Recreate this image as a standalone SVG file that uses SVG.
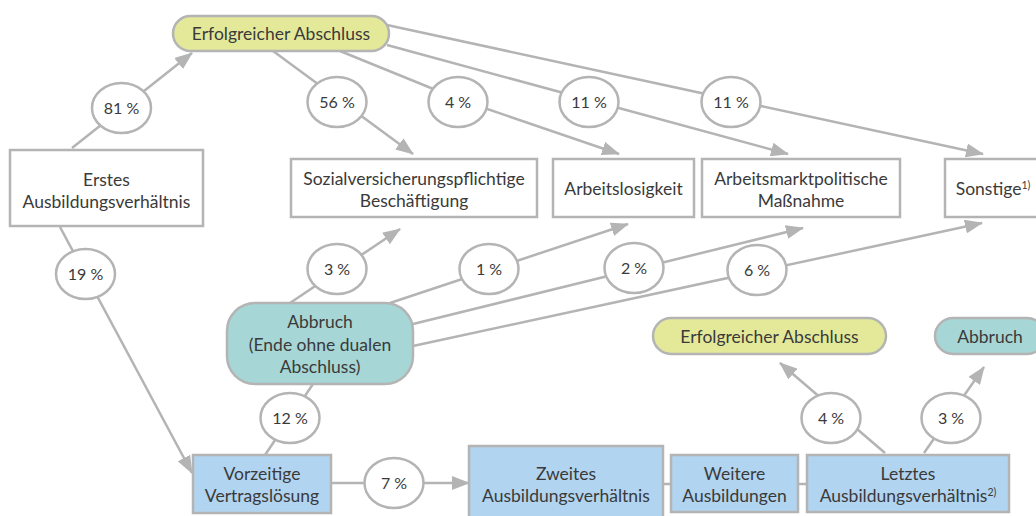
<svg xmlns="http://www.w3.org/2000/svg" width="1036" height="516" viewBox="0 0 1036 516">
<defs>
<marker id="ah" markerUnits="userSpaceOnUse" markerWidth="18" markerHeight="14" viewBox="0 0 18 14" refX="17" refY="7" orient="auto">
<path d="M0,0 L18,7 L0,14 z" fill="#b4b4b4"/>
</marker>
</defs>
<style>
text{font-family:Lato,"Noto Sans","DejaVu Sans",sans-serif;font-size:17.5px;fill:#3a3a3a;text-anchor:middle}
text.p{font-size:16px}
.box{fill:#fff;stroke:#b4b4b4;stroke-width:2.5}
.yel{fill:#e4e99a;stroke:#b4b4b4;stroke-width:2.5}
.teal{fill:#a6d6d6;stroke:#b4b4b4;stroke-width:2.5}
.blue{fill:#b1d4f0;stroke:#b4b4b4;stroke-width:2.5}
.pct{fill:#fff;stroke:#b4b4b4;stroke-width:2.5}
.ln{fill:none;stroke:#b4b4b4;stroke-width:2.5}
.arr{marker-end:url(#ah)}
.sup{font-size:10.5px}
</style>
<rect width="1036" height="516" fill="#fff"/>
<g id="connectors">
<line class="ln arr" x1="72" y1="148" x2="192" y2="53"/>
<line class="ln arr" x1="273" y1="51" x2="413" y2="154"/>
<polyline class="ln arr" points="340,51 458,99 619,154"/>
<line class="ln arr" x1="387" y1="45" x2="788" y2="154"/>
<line class="ln arr" x1="387" y1="25" x2="983" y2="154"/>
<line class="ln arr" x1="290" y1="303" x2="400" y2="229"/>
<line class="ln arr" x1="390" y1="303" x2="628" y2="224"/>
<line class="ln arr" x1="413" y1="324" x2="803" y2="228"/>
<line class="ln arr" x1="413" y1="346" x2="982" y2="223"/>
<line class="ln arr" x1="60" y1="227" x2="192" y2="473"/>
<line class="ln" x1="265" y1="455" x2="313" y2="384"/>
<line class="ln arr" x1="331" y1="483" x2="469" y2="483"/>
<line class="ln" x1="663" y1="484" x2="671" y2="484"/>
<line class="ln" x1="798" y1="484" x2="807" y2="484"/>
<line class="ln arr" x1="885" y1="453" x2="780" y2="363"/>
<line class="ln arr" x1="924" y1="453" x2="984" y2="367"/>
</g>
<g id="n-erfolg1"><rect class="yel" x="173" y="16" width="216" height="35" rx="17.5"/><text x="281" y="39.5">Erfolgreicher Abschluss</text></g>
<g id="n-erstes"><rect class="box" x="10" y="150" width="193" height="76"/><text x="106.5" y="186">Erstes</text><text x="106.5" y="208">Ausbildungsverhältnis</text></g>
<g id="n-sozial"><rect class="box" x="291" y="159" width="246" height="58"/><text x="414" y="185">Sozialversicherungspflichtige</text><text x="414" y="207">Beschäftigung</text></g>
<g id="n-arbeitslos"><rect class="box" x="553" y="159" width="141" height="58"/><text x="623.5" y="195">Arbeitslosigkeit</text></g>
<g id="n-massnahme"><rect class="box" x="702" y="159" width="198" height="58"/><text x="801" y="185">Arbeitsmarktpolitische</text><text x="801" y="207">Maßnahme</text></g>
<g id="n-sonstige"><rect class="box" x="945" y="159" width="96" height="58"/><text x="993" y="195">Sonstige<tspan class="sup" dy="-6">1)</tspan></text></g>
<g id="n-abbruch1"><rect class="teal" x="227" y="303" width="186" height="81" rx="28"/><text x="320" y="328">Abbruch</text><text x="320" y="351">(Ende ohne dualen</text><text x="320" y="373">Abschluss)</text></g>
<g id="n-vorzeitig"><rect class="blue" x="193" y="455" width="138" height="58"/><text x="262" y="480">Vorzeitige</text><text x="262" y="502">Vertragslösung</text></g>
<g id="n-zweites"><rect class="blue" x="469" y="446" width="194" height="80"/><text x="566" y="480">Zweites</text><text x="566" y="502">Ausbildungsverhältnis</text></g>
<g id="n-weitere"><rect class="blue" x="671" y="455" width="127" height="57"/><text x="734.5" y="480">Weitere</text><text x="734.5" y="502">Ausbildungen</text></g>
<g id="n-letztes"><rect class="blue" x="807" y="455" width="202" height="57"/><text x="908" y="480">Letztes</text><text x="908" y="502">Ausbildungsverhältnis<tspan class="sup" dy="-6">2)</tspan></text></g>
<g id="n-erfolg2"><rect class="yel" x="653" y="318" width="233" height="36" rx="18"/><text x="769.5" y="342.5">Erfolgreicher Abschluss</text></g>
<g id="n-abbruch2"><rect class="teal" x="935" y="318" width="110" height="36" rx="18"/><text x="990" y="342.5">Abbruch</text></g>
<g id="labels">
<g><ellipse class="pct" cx="121.5" cy="108" rx="29.5" ry="25"/><text class="p" x="121.5" y="113.5">81 %</text></g>
<g><ellipse class="pct" cx="337" cy="102" rx="29.5" ry="25"/><text class="p" x="337" y="107.5">56 %</text></g>
<g><ellipse class="pct" cx="458" cy="102" rx="29.5" ry="25"/><text class="p" x="458" y="107.5">4 %</text></g>
<g><ellipse class="pct" cx="589" cy="102" rx="29.5" ry="25"/><text class="p" x="589" y="107.5">11 %</text></g>
<g><ellipse class="pct" cx="731" cy="102" rx="29.5" ry="25"/><text class="p" x="731" y="107.5">11 %</text></g>
<g><ellipse class="pct" cx="85.5" cy="274" rx="29.5" ry="25"/><text class="p" x="85.5" y="279.5">19 %</text></g>
<g><ellipse class="pct" cx="337" cy="269" rx="29.5" ry="25"/><text class="p" x="337" y="274.5">3 %</text></g>
<g><ellipse class="pct" cx="489" cy="269" rx="29.5" ry="25"/><text class="p" x="489" y="274.5">1 %</text></g>
<g><ellipse class="pct" cx="634" cy="268" rx="29.5" ry="25"/><text class="p" x="634" y="273.5">2 %</text></g>
<g><ellipse class="pct" cx="757" cy="270" rx="29.5" ry="25"/><text class="p" x="757" y="275.5">6 %</text></g>
<g><ellipse class="pct" cx="290" cy="418" rx="29.5" ry="25"/><text class="p" x="290" y="423.5">12 %</text></g>
<g><ellipse class="pct" cx="394" cy="483" rx="29.5" ry="25"/><text class="p" x="394" y="488.5">7 %</text></g>
<g><ellipse class="pct" cx="831" cy="418" rx="29.5" ry="25"/><text class="p" x="831" y="423.5">4 %</text></g>
<g><ellipse class="pct" cx="951" cy="418" rx="29.5" ry="25"/><text class="p" x="951" y="423.5">3 %</text></g>
</g>
</svg>
